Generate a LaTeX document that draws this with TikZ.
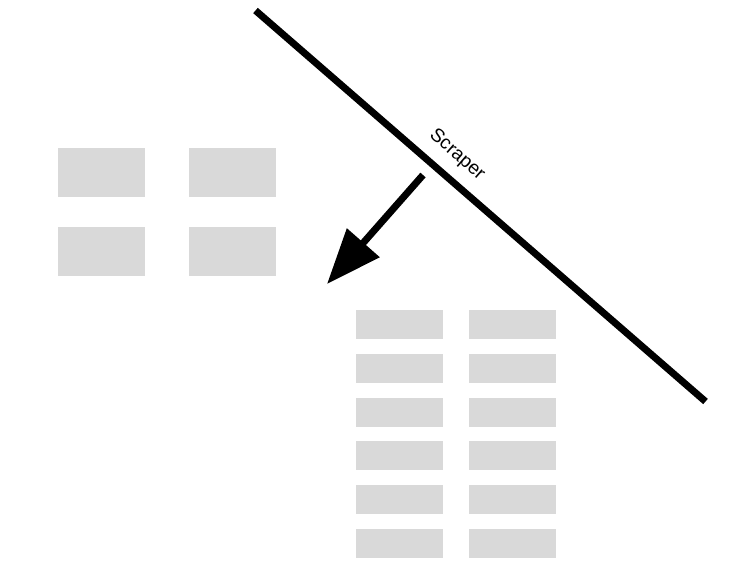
\documentclass[tikz,border=0pt]{standalone}
\usepackage{fontspec}
\setmainfont{Liberation Sans}
\usetikzlibrary{arrows.meta}
\definecolor{boxgray}{HTML}{D9D9D9}
\tikzset{
  bigbox/.style={fill=boxgray, draw=none, minimum width=87pt, minimum height=49pt, inner sep=0pt, outer sep=0pt},
  smallbox/.style={fill=boxgray, draw=none, minimum width=87pt, minimum height=29pt, inner sep=0pt, outer sep=0pt},
  scraperline/.style={line width=7pt, black},
  pusharrow/.style={line width=7pt, black, -{Triangle[length=55pt, width=42pt]}},
  scraperlabel/.style={font=\fontsize{19}{22}\selectfont, inner sep=0pt, sloped, above=11pt}
}
\begin{document}
\begin{tikzpicture}[x=1pt, y=-1pt]
  \useasboundingbox (0,0) rectangle (746,579);
  % left group
  \node[bigbox] (l11) at (101.5,172) {};
  \node[bigbox] (l12) at (232.5,172) {};
  \node[bigbox] (l21) at (101.5,251) {};
  \node[bigbox] (l22) at (232.5,251) {};
  % right group
  \foreach \i/\y in {1/324.5, 2/368.3, 3/412, 4/455.7, 5/499.5, 6/543.2} {
    \node[smallbox] (ra\i) at (399.5,\y) {};
    \node[smallbox] (rb\i) at (512.5,\y) {};
  }
  % scraper
  \coordinate (s1) at (255.5,10.5);
  \coordinate (s2) at (705.5,401.5);
  \draw[scraperline] (s1) -- node[scraperlabel, pos=0.414] (lbl) {Scraper} (s2);
  % arrow
  \coordinate (a1) at (423,175);
  \coordinate (a2) at (327,284);
  \draw[pusharrow] (a1) -- (a2);
\end{tikzpicture}
\end{document}
